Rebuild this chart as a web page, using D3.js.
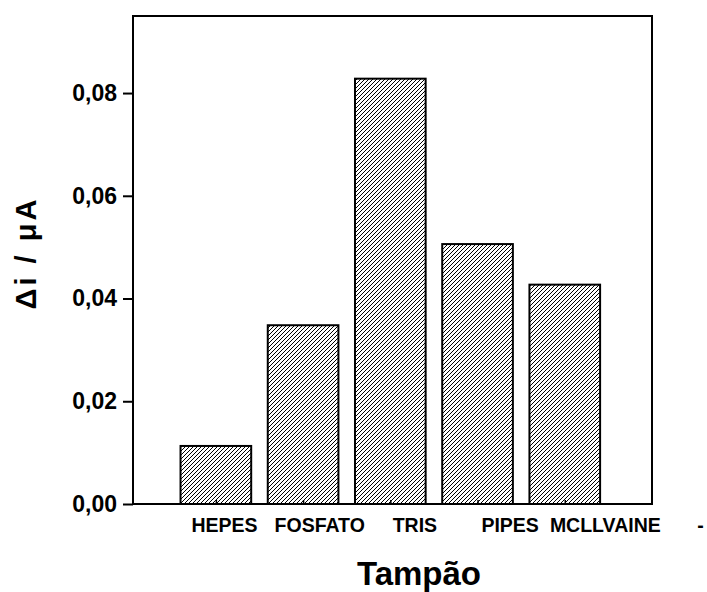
<!DOCTYPE html>
<html>
<head>
<meta charset="utf-8">
<script src="https://cdn.jsdelivr.net/npm/d3@7"></script>
<style>
body { margin: 0; background: #fff; }
text { font-family: "Liberation Sans", Arial, sans-serif; font-weight: bold; fill: #000; }
</style>
</head>
<body>
<div id="chart"></div>
<script>
// buffers and measured current change
var buffers = ["HEPES", "FOSFATO", "TRIS", "PIPES", "MCLLVAINE"];
var deltaI = [0.0113, 0.0348, 0.0828, 0.0506, 0.0427];
var axisLabels = ["HEPES", "FOSFATO", "TRIS", "PIPES", "MCLLVAINE", "-"];
var yTicks = [0, 0.02, 0.04, 0.06, 0.08];

var W = 707, H = 592;
var plotL = 133, plotR = 652, plotT = 16, plotB = 504;

var svg = d3.select("#chart").append("svg")
    .attr("width", W)
    .attr("height", H);

// hatch fill
svg.append("defs").append("pattern")
    .attr("id", "hatch")
    .attr("patternUnits", "userSpaceOnUse")
    .attr("width", 4)
    .attr("height", 4)
    .append("path")
    .attr("d", "M-1,1 l2,-2 M0,4 l4,-4 M3,5 l2,-2")
    .attr("stroke", "#000")
    .attr("stroke-width", 1);

var x = d3.scaleLinear().domain([-0.95, 5]).range([plotL, plotR]);
var xl = d3.scalePoint().domain(axisLabels).range([224, 700]);
var y = d3.scaleLinear().domain([0, 0.095]).range([plotB, plotT]);
var bw = 0.81;

svg.selectAll("rect.bar")
    .data(deltaI)
    .enter().append("rect")
    .attr("class", "bar")
    .attr("x", function(d, i) { return x(i - bw / 2); })
    .attr("width", x(bw) - x(0))
    .attr("y", function(d) { return y(d); })
    .attr("height", function(d) { return y(0) - y(d); })
    .attr("fill", "url(#hatch)")
    .attr("stroke", "#000")
    .attr("stroke-width", 2);

// frame
svg.append("rect")
    .attr("x", plotL)
    .attr("y", plotT)
    .attr("width", plotR - plotL)
    .attr("height", plotB - plotT)
    .attr("fill", "none")
    .attr("stroke", "#000")
    .attr("stroke-width", 2);

// y axis
var yAxis = svg.append("g")
    .attr("transform", "translate(" + plotL + ",0)")
    .call(d3.axisLeft(y).tickValues(yTicks).tickSize(10).tickPadding(6)
        .tickFormat(function(d) { return d3.format(".2f")(d).replace(".", ","); }));
yAxis.select(".domain").remove();
yAxis.selectAll("line").attr("stroke-width", 2);
yAxis.selectAll("text").style("font-size", "23px");

// small inward ticks at the bars
var xAxis = svg.append("g")
    .attr("transform", "translate(0," + plotB + ")")
    .call(d3.axisTop(x).tickValues(d3.range(buffers.length)).tickSize(4).tickFormat(""));
xAxis.select(".domain").remove();
xAxis.selectAll("line").attr("stroke-width", 1.5);

// category labels
var labAxis = svg.append("g")
    .attr("transform", "translate(0," + plotB + ")")
    .call(d3.axisBottom(xl).tickSize(0).tickPadding(14));
labAxis.select(".domain").remove();
labAxis.selectAll("text").style("font-size", "19.5px");

// titles
svg.append("text")
    .attr("x", 419)
    .attr("y", 585)
    .attr("text-anchor", "middle")
    .style("font-size", "33px")
    .text("Tampão");

svg.append("text")
    .attr("transform", "translate(36,253) rotate(-90)")
    .attr("text-anchor", "middle")
    .style("font-size", "29px")
    .style("letter-spacing", "3px")
    .text("Δi / μA");
</script>
</body>
</html>
